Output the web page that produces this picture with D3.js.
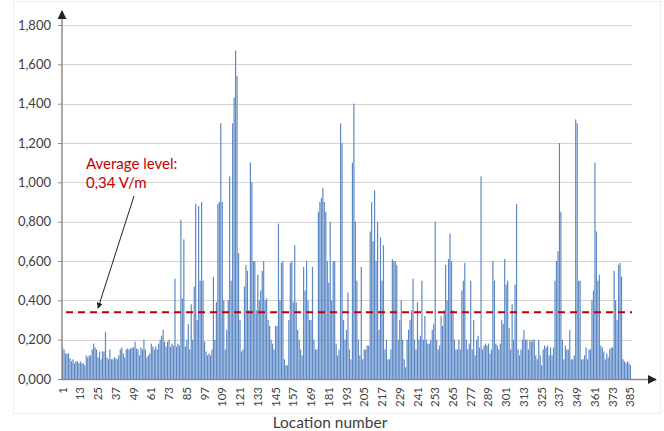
<!DOCTYPE html>
<html>
<head>
<meta charset="utf-8">
<script src="https://cdn.jsdelivr.net/npm/d3@7"></script>
<style>
  body { margin: 0; background: #fff; }
  svg { display: block; font-family: Lato, "Open Sans", sans-serif; }
</style>
</head>
<body>
<div class="container"></div>
<script>
const values = [
  0.16, 0.15, 0.13, 0.13, 0.13, 0.105, 0.09, 0.10, 0.08, 0.09,
  0.09, 0.08, 0.09, 0.08, 0.08, 0.07, 0.12, 0.11, 0.12, 0.12,
  0.15, 0.18, 0.16, 0.15, 0.11, 0.14, 0.10, 0.14, 0.14, 0.24,
  0.11, 0.10, 0.15, 0.10, 0.10, 0.11, 0.105, 0.10, 0.12, 0.15,
  0.16, 0.13, 0.11, 0.15, 0.155, 0.15, 0.155, 0.16, 0.16, 0.19,
  0.155, 0.15, 0.12, 0.16, 0.15, 0.20, 0.15, 0.11, 0.12, 0.13,
  0.18, 0.165, 0.15, 0.165, 0.15, 0.18, 0.20, 0.22, 0.25, 0.19,
  0.165, 0.19, 0.20, 0.165, 0.18, 0.17, 0.51, 0.165, 0.18, 0.17,
  0.81, 0.41, 0.71, 0.165, 0.20, 0.28, 0.15, 0.38, 0.20, 0.47,
  0.89, 0.30, 0.88, 0.50, 0.90, 0.50, 0.19, 0.14, 0.12, 0.13,
  0.12, 0.15, 0.52, 0.20, 0.39, 0.89, 0.90, 1.30, 0.90, 0.40,
  0.15, 0.25, 0.40, 1.03, 0.50, 1.30, 1.43, 1.67, 1.54, 0.64,
  0.30, 0.14, 0.15, 0.47, 0.58, 0.55, 0.35, 1.10, 1.00, 0.60,
  0.60, 0.35, 0.53, 0.40, 0.45, 0.55, 0.60, 0.40, 0.41, 0.30,
  0.27, 0.20, 0.18, 0.15, 0.27, 0.27, 0.79, 0.40, 0.59, 0.60,
  0.10, 0.07, 0.07, 0.30, 0.59, 0.60, 0.39, 0.68, 0.39, 0.25,
  0.20, 0.15, 0.12, 0.57, 0.45, 0.60, 0.40, 0.30, 0.30, 0.57,
  0.20, 0.15, 0.15, 0.85, 0.90, 0.92, 0.97, 0.90, 0.85, 0.60,
  0.49, 0.80, 0.40, 0.60, 0.60, 0.18, 0.12, 0.15, 1.30, 1.20,
  0.30, 0.20, 0.25, 0.44, 0.15, 0.10, 1.10, 1.40, 0.80, 0.50,
  0.20, 0.12, 0.57, 0.10, 0.15, 0.15, 0.17, 0.17, 0.75, 0.90,
  0.70, 0.96, 0.60, 0.80, 0.25, 0.72, 0.50, 0.68, 0.15, 0.20,
  0.10, 0.10, 0.15, 0.61, 0.60, 0.60, 0.58, 0.20, 0.30, 0.40,
  0.20, 0.10, 0.06, 0.20, 0.25, 0.30, 0.35, 0.51, 0.20, 0.15,
  0.39, 0.20, 0.22, 0.50, 0.20, 0.32, 0.20, 0.18, 0.18, 0.20,
  0.25, 0.28, 0.80, 0.20, 0.15, 0.17, 0.32, 0.27, 0.35, 0.58,
  0.40, 0.61, 0.74, 0.60, 0.35, 0.20, 0.15, 0.15, 0.20, 0.15,
  0.45, 0.50, 0.59, 0.20, 0.15, 0.18, 0.50, 0.15, 0.30, 0.12,
  0.20, 0.22, 0.16, 1.03, 0.15, 0.17, 0.18, 0.17, 0.18, 0.13,
  0.15, 0.60, 0.50, 0.18, 0.17, 0.15, 0.18, 0.30, 0.28, 0.61,
  0.48, 0.50, 0.26, 0.15, 0.38, 0.20, 0.48, 0.89, 0.15, 0.12,
  0.15, 0.20, 0.25, 0.20, 0.20, 0.15, 0.20, 0.19, 0.20, 0.20,
  0.12, 0.10, 0.20, 0.12, 0.07, 0.15, 0.17, 0.16, 0.17, 0.12,
  0.16, 0.12, 0.16, 0.50, 0.60, 0.65, 1.20, 0.85, 0.20, 0.10,
  0.17, 0.15, 0.15, 0.25, 0.10, 0.10, 0.12, 1.32, 1.30, 0.50,
  0.50, 0.10, 0.10, 0.12, 0.16, 0.10, 0.15, 0.15, 0.40, 0.45,
  1.10, 0.75, 0.50, 0.53, 0.17, 0.16, 0.14, 0.10, 0.13, 0.11,
  0.15, 0.16, 0.16, 0.55, 0.40, 0.30, 0.58, 0.59, 0.52, 0.10,
  0.09, 0.08, 0.09, 0.08, 0.07,
];

// location numbers 1..385
const locations = values.map((v, i) => i + 1);
// every 12th location is labelled
const xTickLabels = locations.filter((d) => (d - 1) % 12 === 0);
const yTicks = [0, 0.2, 0.4, 0.6, 0.8, 1.0, 1.2, 1.4, 1.6, 1.8];
const averageLevel = 0.34;
const averageText = ["Average level:", "0,34 V/m"];

const width = 664;
const height = 431;
const plot = { left: 62, right: 631, top: 25, bottom: 379 };

const svg = d3
  .select(".container")
  .append("svg")
  .attr("width", width)
  .attr("height", height);

// faint outer frame
svg
  .append("rect")
  .attr("x", 13.5)
  .attr("y", 1.5)
  .attr("width", 647)
  .attr("height", 412)
  .attr("fill", "none")
  .attr("stroke", "#ededed");

svg
  .append("defs")
  .append("marker")
  .attr("id", "arrow")
  .attr("viewBox", "0 0 10 10")
  .attr("refX", 9)
  .attr("refY", 5)
  .attr("markerWidth", 6)
  .attr("markerHeight", 6)
  .attr("orient", "auto")
  .append("path")
  .attr("d", "M0,0 L10,5 L0,10 z")
  .attr("fill", "#222");

const x = d3
  .scaleBand()
  .domain(locations)
  .range([plot.left, plot.right])
  .paddingInner(0.2);

const y = d3
  .scaleLinear()
  .domain([0, 1.8])
  .range([plot.bottom, plot.top]);

const commaFormat = (d) => d3.format(".3f")(d).replace(".", ",");

// gridlines
svg
  .append("g")
  .selectAll("line")
  .data(yTicks.slice(1))
  .enter()
  .append("line")
  .attr("x1", plot.left)
  .attr("x2", plot.right + 1)
  .attr("y1", (d) => Math.round(y(d)) + 0.5)
  .attr("y2", (d) => Math.round(y(d)) + 0.5)
  .attr("stroke", "#d4d4d4")
  .attr("stroke-width", 1.2);

// bars
svg
  .append("g")
  .selectAll("rect")
  .data(values)
  .enter()
  .append("rect")
  .attr("x", (d, i) => x(locations[i]))
  .attr("width", x.bandwidth())
  .attr("y", (d) => y(d))
  .attr("height", (d) => y(0) - y(d))
  .attr("fill", "#5b88c6");

// average level
svg
  .append("line")
  .attr("x1", plot.left + 4)
  .attr("x2", plot.right + 1)
  .attr("y1", y(averageLevel))
  .attr("y2", y(averageLevel))
  .attr("stroke", "#c00000")
  .attr("stroke-width", 2)
  .attr("stroke-dasharray", "7,5");

// y axis
const yAxis = svg
  .append("g")
  .attr("transform", `translate(${plot.left},0)`)
  .call(
    d3.axisLeft(y).tickValues(yTicks).tickFormat(commaFormat).tickSize(4).tickPadding(7)
  );
yAxis.select(".domain").remove();
yAxis.selectAll("line").attr("stroke", "#8c8c8c");
yAxis
  .selectAll("text")
  .attr("fill", "#404040")
  .style("font-size", "13px")
  .style("font-family", "Lato, sans-serif");

svg
  .append("line")
  .attr("x1", plot.left)
  .attr("x2", plot.left)
  .attr("y1", plot.bottom)
  .attr("y2", 11)
  .attr("stroke", "#8c8c8c")
  .attr("stroke-width", 1.5)
  .attr("marker-end", "url(#arrow)");

// x axis
const xAxis = svg
  .append("g")
  .attr("transform", `translate(0,${plot.bottom})`)
  .call(d3.axisBottom(x).tickValues(xTickLabels).tickSize(0));
xAxis.select(".domain").remove();
xAxis
  .selectAll("text")
  .attr("transform", "rotate(-90)")
  .attr("text-anchor", "end")
  .attr("x", -8)
  .attr("y", 0)
  .attr("dy", "0.35em")
  .attr("fill", "#404040")
  .style("font-size", "11.5px")
  .style("font-family", "Lato, sans-serif");

svg
  .append("line")
  .attr("x1", plot.left)
  .attr("x2", 656)
  .attr("y1", plot.bottom + 0.5)
  .attr("y2", plot.bottom + 0.5)
  .attr("stroke", "#8c8c8c")
  .attr("stroke-width", 1.5)
  .attr("marker-end", "url(#arrow)");

svg
  .append("text")
  .attr("x", 330)
  .attr("y", 428)
  .attr("text-anchor", "middle")
  .attr("fill", "#404040")
  .style("font-size", "15.5px")
  .text("Location number");

// annotation
svg
  .append("g")
  .selectAll("text")
  .data(averageText)
  .enter()
  .append("text")
  .attr("x", 86)
  .attr("y", (d, i) => 169 + i * 19)
  .attr("fill", "#c00000")
  .style("font-size", "15px")
  .text((d) => d);

svg
  .append("line")
  .attr("x1", 134)
  .attr("y1", 196)
  .attr("x2", 98)
  .attr("y2", y(averageLevel) - 4)
  .attr("stroke", "#222")
  .attr("stroke-width", 1)
  .attr("marker-end", "url(#arrow)");
</script>
</body>
</html>
